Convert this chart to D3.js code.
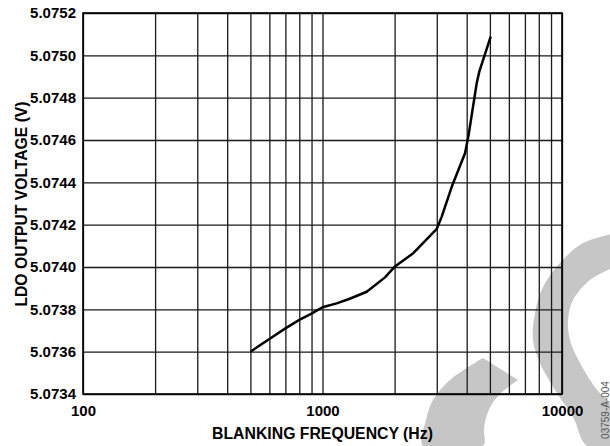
<!DOCTYPE html>
<html>
<head>
<meta charset="utf-8">
<script src="https://cdn.jsdelivr.net/npm/d3@7"></script>
<style>
  body { margin: 0; background: #fff; }
  svg text { font-family: "Liberation Sans", Arial, sans-serif; }
</style>
</head>
<body>
<div id="chart"></div>
<script>
/**
 * DATA
 * */
const freq = [500, 600, 700, 800, 900, 1000, 1146, 1300, 1530, 1824, 2000, 2393, 3000, 3147, 3464, 3936, 4064, 4404, 4515, 5038];
const volts = [5.07360, 5.07366, 5.07371, 5.07375, 5.07378, 5.07381, 5.073828, 5.07385, 5.073883, 5.073951,
  5.074001, 5.074065, 5.07418, 5.074238, 5.074379, 5.074537, 5.074616, 5.074868, 5.074923, 5.075088];

const xTicks = [100, 200, 300, 400, 500, 600, 700, 800, 900, 1000,
  2000, 3000, 4000, 5000, 6000, 7000, 8000, 9000, 10000];
const xLabels = [100, 1000, 10000];
const yTicks = [5.0734, 5.0736, 5.0738, 5.0740, 5.0742, 5.0744, 5.0746, 5.0748, 5.0750, 5.0752];

/**
 * CONSTANTS
 * */
const width = 610,
  height = 446,
  margin = { top: 13, bottom: 52, left: 83, right: 48 };

const svg = d3.select("#chart")
  .append("svg")
  .attr("width", width)
  .attr("height", height);

// grey watermark shapes behind the grid (decoration only)
const blob = d3.line().curve(d3.curveCatmullRom);
svg.append("path")
  .attr("fill", "#c6c6c6")
  .attr("d", blob([[612, 234], [583, 243], [560, 263], [543, 287], [535, 313], [533, 340], [540, 363],
    [557, 393], [573, 417], [587, 446], [612, 446], [612, 407], [597, 390], [580, 363], [570, 340],
    [568, 320], [573, 300], [590, 280], [612, 268]]) + "Z");
svg.append("path")
  .attr("fill", "#c6c6c6")
  .attr("d", blob([[483, 358], [450, 380], [433, 400], [426, 420], [423, 446], [483, 446],
    [484, 428], [488, 412], [498, 396], [518, 380]]) + "Z");

// SCALES
const xScale = d3.scaleLog()
  .domain([100, 10000])
  .range([margin.left, width - margin.right]);

const yScale = d3.scaleLinear()
  .domain([5.0734, 5.0752])
  .range([height - margin.bottom, margin.top]);

const plotW = width - margin.left - margin.right;
const plotH = height - margin.top - margin.bottom;

// AXES (used as grid too)
const xAxis = d3.axisBottom(xScale)
  .tickValues(xTicks)
  .tickSize(-plotH)
  .tickPadding(11)
  .tickFormat(d => xLabels.includes(d) ? d : "");

const yAxis = d3.axisLeft(yScale)
  .tickValues(yTicks)
  .tickSize(-plotW)
  .tickPadding(7)
  .tickFormat(d3.format(".4f"));

const gx = svg.append("g")
  .attr("class", "axis x-axis")
  .attr("transform", `translate(0,${height - margin.bottom})`)
  .call(xAxis);

const gy = svg.append("g")
  .attr("class", "axis y-axis")
  .attr("transform", `translate(${margin.left},0)`)
  .call(yAxis);

[gx, gy].forEach(g => {
  g.select(".domain").remove();
  g.selectAll(".tick line").attr("stroke", "#1a1a1a").attr("stroke-width", 1.3);
  g.selectAll(".tick text")
    .attr("fill", "#000")
    .attr("font-size", 15)
    .attr("font-weight", "bold");
});

// frame
svg.append("rect")
  .attr("x", margin.left)
  .attr("y", margin.top)
  .attr("width", plotW)
  .attr("height", plotH)
  .attr("fill", "none")
  .attr("stroke", "#000")
  .attr("stroke-width", 1.6);

// CURVE
const line = d3.line()
  .x((d, i) => xScale(freq[i]))
  .y(d => yScale(d));

svg.append("path")
  .datum(volts)
  .attr("fill", "none")
  .attr("stroke", "#000")
  .attr("stroke-width", 2.5)
  .attr("stroke-linejoin", "round")
  .attr("d", line);

// TITLES
svg.append("text")
  .attr("x", margin.left + plotW / 2)
  .attr("y", 438.5)
  .attr("text-anchor", "middle")
  .attr("font-size", 15.8)
  .attr("font-weight", "bold")
  .text("BLANKING FREQUENCY (Hz)");

svg.append("text")
  .attr("transform", "translate(26.5,204) rotate(-90)")
  .attr("text-anchor", "middle")
  .attr("font-size", 15.7)
  .attr("font-weight", "bold")
  .text("LDO OUTPUT VOLTAGE (V)");

svg.append("text")
  .attr("transform", "translate(609,410) rotate(-90)")
  .attr("text-anchor", "middle")
  .attr("font-size", 10)
  .attr("fill", "#555")
  .text("03759-A-004");
</script>
</body>
</html>
